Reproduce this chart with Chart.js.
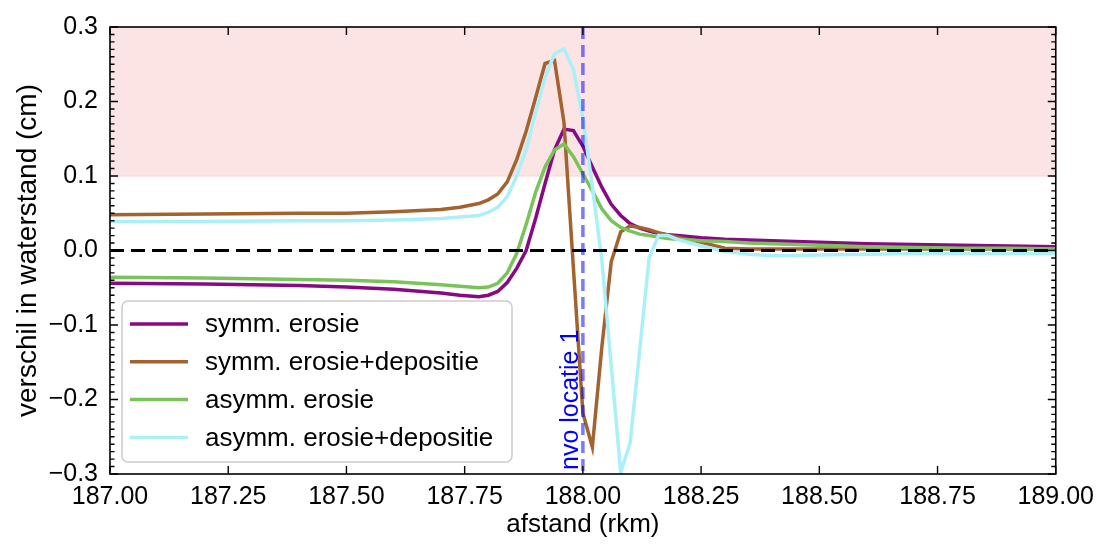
<!DOCTYPE html>
<html>
<head>
<meta charset="utf-8">
<script src="https://cdn.jsdelivr.net/npm/chart.js@4.4.1/dist/chart.umd.min.js"></script>
<style>
  html, body { margin: 0; padding: 0; background: #fff; }
  canvas { display: block; }
</style>
</head>
<body>
<canvas id="waterChart" width="1102" height="546"></canvas>
<script>
// afstand langs de rivier (rkm)
const afstandKm = [
  187.00, 187.20, 187.40, 187.50, 187.60, 187.70, 187.74, 187.78, 187.80, 187.82,
  187.84, 187.86, 187.88, 187.90, 187.92, 187.94, 187.96, 187.98, 188.00, 188.02,
  188.04, 188.06, 188.08, 188.10, 188.12, 188.14, 188.16, 188.18, 188.20, 188.25,
  188.30, 188.35, 188.40, 188.50, 188.60, 188.70, 188.80, 188.90, 189.00
];

// verschil in waterstand (cm) per scenario
const symmErosie = [
  -0.044, -0.045, -0.047, -0.049, -0.052, -0.057, -0.060, -0.062, -0.060, -0.055,
  -0.043, -0.024, 0.000, 0.043, 0.090, 0.135, 0.163, 0.161, 0.140, 0.112,
  0.085, 0.062, 0.047, 0.036, 0.030, 0.026, 0.023, 0.021, 0.020, 0.017,
  0.015, 0.014, 0.013, 0.011, 0.009, 0.008, 0.007, 0.006, 0.005
];
const symmErosieDepositie = [
  0.048, 0.049, 0.050, 0.050, 0.052, 0.055, 0.058, 0.063, 0.068, 0.076,
  0.092, 0.122, 0.160, 0.205, 0.251, 0.255, 0.172, -0.024, -0.218, -0.264,
  -0.130, -0.015, 0.025, 0.033, 0.031, 0.028, 0.024, 0.021, 0.018, 0.011,
  0.003, 0.002, 0.002, 0.002, 0.002, 0.002, 0.002, 0.002, 0.002
];
const asymmErosie = [
  -0.036, -0.037, -0.039, -0.040, -0.042, -0.046, -0.048, -0.050, -0.049, -0.044,
  -0.030, -0.004, 0.035, 0.078, 0.112, 0.135, 0.143, 0.126, 0.103, 0.080,
  0.056, 0.040, 0.031, 0.026, 0.022, 0.020, 0.018, 0.016, 0.015, 0.013,
  0.012, 0.010, 0.009, 0.007, 0.005, 0.004, 0.003, 0.003, 0.002
];
const asymmErosieDepositie = [
  0.039, 0.039, 0.040, 0.040, 0.041, 0.043, 0.045, 0.047, 0.051, 0.058,
  0.072, 0.100, 0.135, 0.185, 0.232, 0.264, 0.271, 0.243, 0.178, 0.086,
  -0.012, -0.155, -0.298, -0.258, -0.135, -0.010, 0.020, 0.020, 0.015, 0.006,
  -0.001, -0.005, -0.007, -0.006, -0.005, -0.004, -0.004, -0.004, -0.004
];

const seriesLabels = ["symm. erosie", "symm. erosie+depositie", "asymm. erosie", "asymm. erosie+depositie"];
const seriesValues = [symmErosie, symmErosieDepositie, asymmErosie, asymmErosieDepositie];
const seriesColors = ["#870a83", "#a2632f", "#79c35b", "#abeff9"];

// band boven de 0.1 cm en de nvo-locatie
const bandFrom = 0.1;
const bandTo = 0.3;
const nvoKm = 188.0;
const nvoLabel = "nvo locatie 1";

const FONT = "'Liberation Sans', Arial, Helvetica, sans-serif";

function fmtY(v) {
  const s = Math.abs(v).toFixed(1);
  return v < -1e-9 ? "\u2212" + s : s;
}

const overlay = {
  id: "overlay",
  beforeDatasetsDraw(chart) {
    const { ctx, chartArea: a, scales: { y } } = chart;
    const top = y.getPixelForValue(bandTo);
    const bot = y.getPixelForValue(bandFrom);
    ctx.save();
    ctx.fillStyle = "#fde4e4";
    ctx.fillRect(a.left, top, a.right - a.left, bot - top);
    ctx.strokeStyle = "#fbd3d3";
    ctx.lineWidth = 1;
    ctx.beginPath();
    ctx.moveTo(a.left, bot);
    ctx.lineTo(a.right, bot);
    ctx.stroke();
    ctx.restore();
  },
  afterDatasetsDraw(chart) {
    const { ctx, chartArea: a, scales: { x, y } } = chart;
    ctx.save();

    // nul-lijn
    const y0 = y.getPixelForValue(0);
    ctx.strokeStyle = "#000";
    ctx.lineWidth = 3;
    ctx.setLineDash([14, 7]);
    ctx.beginPath();
    ctx.moveTo(a.left, y0);
    ctx.lineTo(a.right, y0);
    ctx.stroke();

    // nvo locatie
    const xn = x.getPixelForValue(nvoKm);
    ctx.strokeStyle = "rgba(0, 0, 255, 0.52)";
    ctx.lineWidth = 3.5;
    ctx.setLineDash([12, 6]);
    ctx.beginPath();
    ctx.moveTo(xn, a.top);
    ctx.lineTo(xn, a.bottom);
    ctx.stroke();
    ctx.setLineDash([]);

    ctx.save();
    ctx.translate(xn - 5, a.bottom - 4);
    ctx.rotate(-Math.PI / 2);
    ctx.fillStyle = "#0000ff";
    ctx.font = "25px " + FONT;
    ctx.textAlign = "left";
    ctx.textBaseline = "alphabetic";
    ctx.fillText(nvoLabel, 0, 0);
    ctx.restore();

    // kader en maatstreepjes naar binnen
    ctx.strokeStyle = "#000";
    ctx.lineWidth = 1.6;
    ctx.strokeRect(a.left, a.top, a.right - a.left, a.bottom - a.top);
    ctx.lineWidth = 1.4;
    ctx.beginPath();
    x.ticks.forEach(t => {
      const px = x.getPixelForValue(t.value);
      ctx.moveTo(px, a.bottom); ctx.lineTo(px, a.bottom - 8);
      ctx.moveTo(px, a.top); ctx.lineTo(px, a.top + 8);
    });
    for (let i = -30; i <= 30; i++) {
      const py = y.getPixelForValue(i / 100);
      const len = i % 10 === 0 ? 8 : 4.5;
      ctx.moveTo(a.left, py); ctx.lineTo(a.left + len, py);
      ctx.moveTo(a.right, py); ctx.lineTo(a.right - len, py);
    }
    ctx.stroke();

    // legenda linksonder
    const lx = 122, ly = 301, lw = 390, lh = 161;
    ctx.fillStyle = "rgba(255, 255, 255, 0.8)";
    ctx.strokeStyle = "#cccccc";
    ctx.lineWidth = 1.5;
    ctx.beginPath();
    ctx.roundRect(lx, ly, lw, lh, 6);
    ctx.fill();
    ctx.stroke();
    ctx.font = "26px " + FONT;
    ctx.textBaseline = "middle";
    ctx.textAlign = "left";
    chart.data.datasets.forEach((ds, i) => {
      const ry = 324 + i * 37.8;
      ctx.strokeStyle = ds.borderColor;
      ctx.lineWidth = 3.5;
      ctx.beginPath();
      ctx.moveTo(130, ry);
      ctx.lineTo(188, ry);
      ctx.stroke();
      ctx.fillStyle = "#000";
      ctx.fillText(ds.label, 205, ry + 1);
    });
    ctx.restore();
  }
};

new Chart(document.getElementById("waterChart"), {
  type: "line",
  data: {
    datasets: seriesLabels.map((label, i) => ({
      label,
      data: afstandKm.map((km, j) => ({ x: km, y: seriesValues[i][j] })),
      borderColor: seriesColors[i],
      borderWidth: 3.5,
      pointRadius: 0,
      tension: 0,
      fill: false,
      order: seriesLabels.length - i
    }))
  },
  options: {
    responsive: false,
    animation: false,
    devicePixelRatio: 1,
    layout: { padding: { top: 18, right: 44, left: 0, bottom: 0 } },
    plugins: { legend: { display: false }, tooltip: { enabled: false } },
    scales: {
      x: {
        type: "linear",
        min: 187,
        max: 189,
        afterFit: s => { s.height = 72; },
        grid: { display: false, drawTicks: false },
        border: { display: false },
        ticks: {
          stepSize: 0.25,
          padding: 8,
          color: "#000",
          font: { family: FONT, size: 25 },
          maxRotation: 0,
          autoSkip: false,
          callback: v => Number(v).toFixed(2)
        },
        title: {
          display: true,
          text: "afstand (rkm)",
          color: "#000",
          font: { family: FONT, size: 26 },
          padding: { top: 6, bottom: 6 }
        }
      },
      y: {
        min: -0.3,
        max: 0.3,
        afterFit: s => { s.width = 110; },
        grid: { display: false, drawTicks: false },
        border: { display: false },
        ticks: {
          stepSize: 0.1,
          padding: 12,
          color: "#000",
          font: { family: FONT, size: 25 },
          autoSkip: false,
          callback: v => fmtY(v)
        },
        title: {
          display: true,
          text: "verschil in waterstand (cm)",
          color: "#000",
          font: { family: FONT, size: 28 },
          padding: { top: 11, bottom: 0 }
        }
      }
    }
  },
  plugins: [overlay]
});
</script>
</body>
</html>
